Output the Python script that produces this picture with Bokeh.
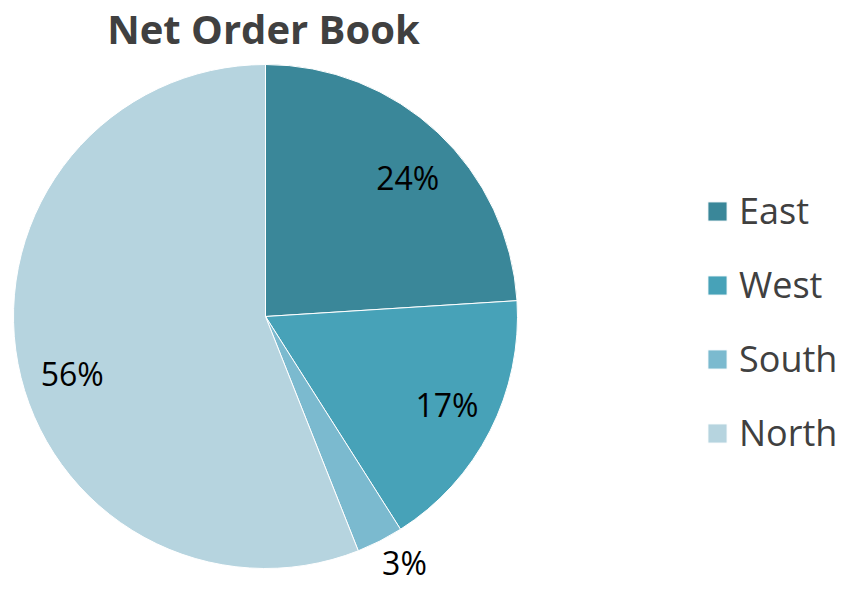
import numpy as np
from bokeh.plotting import figure
from bokeh.models import ColumnDataSource, Range1d, Legend, LegendItem
from bokeh.core.properties import value
from bokeh.embed import file_html
from bokeh.resources import INLINE

categories = ["East", "West", "South", "North"]
shares = [24, 17, 3, 56]
colors = ["#3A8799", "#47A2B8", "#7BBACF", "#B6D4DF"]
label_radius = [0.79, 0.80, 1.12, 0.80]
label_shift_deg = [-2.4, 1.2, 2.5, 5.7]

W, H = 845, 589
cx, cy, R = 265, H - 316, 252

vals = np.array(shares, dtype=float)
frac = vals / vals.sum()
cum = np.concatenate([[0], np.cumsum(frac)])
start = np.pi / 2 - cum[:-1] * 2 * np.pi
end = np.pi / 2 - cum[1:] * 2 * np.pi
mid = (start + end) / 2 + np.radians(label_shift_deg)
lx = cx + np.array(label_radius) * R * np.cos(mid)
ly = cy + np.array(label_radius) * R * np.sin(mid)

src = ColumnDataSource(dict(
    cat=categories, start=start, end=end, color=colors,
    lx=lx, ly=ly, lab=[f"{s}%" for s in shares],
))

p = figure(width=W, height=H, x_range=Range1d(0, W), y_range=Range1d(0, H),
           output_backend="svg", toolbar_location=None, min_border=0,
           outline_line_color=None)
p.axis.visible = False
p.grid.visible = False

renderers = []
for i, c in enumerate(categories):
    r = p.wedge(x=cx, y=cy, radius=R, start_angle=start[i], end_angle=end[i],
                direction="clock", fill_color=colors[i], line_color="white",
                line_width=1)
    renderers.append(r)

p.text(x="lx", y="ly", text="lab", source=src, text_align="center",
       text_baseline="middle", text_font=value("Open Sans"),
       text_font_size="32px", text_color="#000000")

p.text(x=[263], y=[H - 28], text=["Net Order Book"], text_align="center",
       text_baseline="middle", text_font=value("Open Sans"),
       text_font_style="bold", text_font_size="40px", text_color="#404040")

legend = Legend(items=[LegendItem(label=c, renderers=[renderers[i]])
                       for i, c in enumerate(categories)],
                location=(705, 132), orientation="vertical",
                glyph_width=24, glyph_height=24, label_height=40,
                spacing=25, padding=0, margin=0, label_standoff=10,
                label_text_font="Open Sans", label_text_font_size="36px",
                label_text_color="#404040", border_line_color=None,
                background_fill_alpha=0)
p.add_layout(legend, "center")

open("out.html", "w").write(file_html(p, INLINE))
